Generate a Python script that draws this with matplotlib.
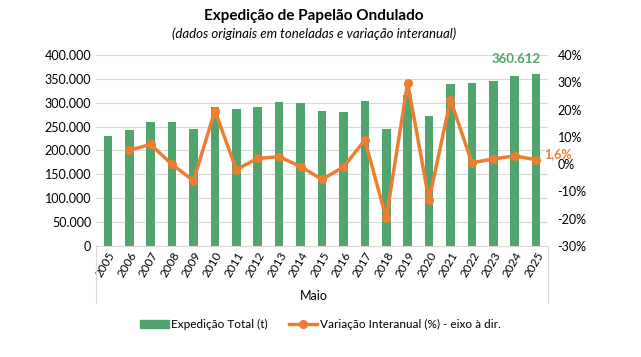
import matplotlib.pyplot as plt
from matplotlib.ticker import FuncFormatter
from matplotlib.lines import Line2D
from matplotlib.patches import Patch

plt.rcParams['font.family'] = ['Lato', 'DejaVu Sans']

anos = [str(a) for a in range(2005, 2026)]
expedicao = [230000, 242500, 260000, 260000, 244000, 292000, 287000, 292000, 300500, 299000,
             282000, 280000, 304000, 244000, 317000, 273000, 339000, 341000, 346000, 355000, 360612]
variacao = [None, 5.1, 7.2, -0.1, -6.1, 19.6, -2.0, 2.1, 2.7, -0.9,
            -5.6, -1.1, 8.8, -19.8, 29.8, -13.2, 23.6, 0.5, 1.9, 3.0, 1.6]

verde = '#52A46E'
laranja = '#ED7D31'

fig = plt.figure(figsize=(6.41, 3.57), dpi=100)
ax = fig.add_axes([0.1498, 0.311, 0.705, 0.535])
x = list(range(len(anos)))
ax.bar(x, expedicao, width=0.4, color=verde, zorder=2)
ax.set_ylim(0, 400000)
ax.set_yticks(range(0, 400001, 50000))
ax.yaxis.set_major_formatter(FuncFormatter(lambda v, p: f'{int(v):,}'.replace(',', '.')))
ax.grid(axis='y', color='#D9D9D9', linewidth=0.8, zorder=0)
ax.set_xlim(-0.55, len(anos) - 0.45)
ax.set_xticks(x)
ax.set_xticklabels(anos, rotation=60, ha='right', rotation_mode='anchor', fontsize=8.5)
ax.tick_params(axis='x', length=0, pad=3)
ax.tick_params(axis='y', length=0, labelsize=9)
for s in ['top', 'right', 'left']:
    ax.spines[s].set_visible(False)
ax.spines['bottom'].set_color('#D9D9D9')

ax2 = ax.twinx()
xs = [i for i, v in zip(x, variacao) if v is not None]
ys = [v for v in variacao if v is not None]
ax2.plot(xs, ys, color=laranja, linewidth=2.5, marker='o', markersize=5.5, zorder=3)
ax2.set_ylim(-30, 40)
ax2.set_yticks(range(-30, 41, 10))
ax2.yaxis.set_major_formatter(FuncFormatter(lambda v, p: f'{int(v)}%'))
ax2.tick_params(axis='y', length=0, labelsize=9, pad=7)
for s in ['top', 'right', 'left', 'bottom']:
    ax2.spines[s].set_visible(False)

ax.annotate('360.612', (x[-1], expedicao[-1]), xytext=(3, 6), textcoords='offset points',
            ha='right', va='bottom', color=verde, fontsize=9.5, fontweight='bold')
ax2.annotate('1,6%', (xs[-1], ys[-1]), xytext=(6, 4), textcoords='offset points',
             ha='left', va='center', color=laranja, fontsize=9, fontweight='bold')

# linhas de grupo da categoria (estilo Excel)
for xp in [0.1498, 0.855]:
    fig.add_artist(Line2D([xp, xp], [0.311, 0.15], color='#D9D9D9', linewidth=0.8))

fig.text(0.49, 0.155, 'Maio', ha='center', va='bottom', fontsize=9)
fig.text(0.49, 0.955, 'Expedição de Papelão Ondulado', ha='center', va='center',
         fontsize=11, fontweight='bold')
fig.text(0.49, 0.905, '(dados originais em toneladas e variação interanual)', ha='center',
         va='center', fontsize=9.5, style='italic')

handles = [Patch(color=verde),
           Line2D([0], [0], color=laranja, linewidth=2.5, marker='o', markersize=5.5)]
fig.legend(handles, ['Expedição Total (t)', 'Variação Interanual (%) - eixo à dir.'],
           loc='center', bbox_to_anchor=(0.5, 0.09), ncol=2, frameon=False, fontsize=8.5,
           handlelength=2.4, handletextpad=0.2, columnspacing=1.8)

fig.savefig('out.png', dpi=100)
